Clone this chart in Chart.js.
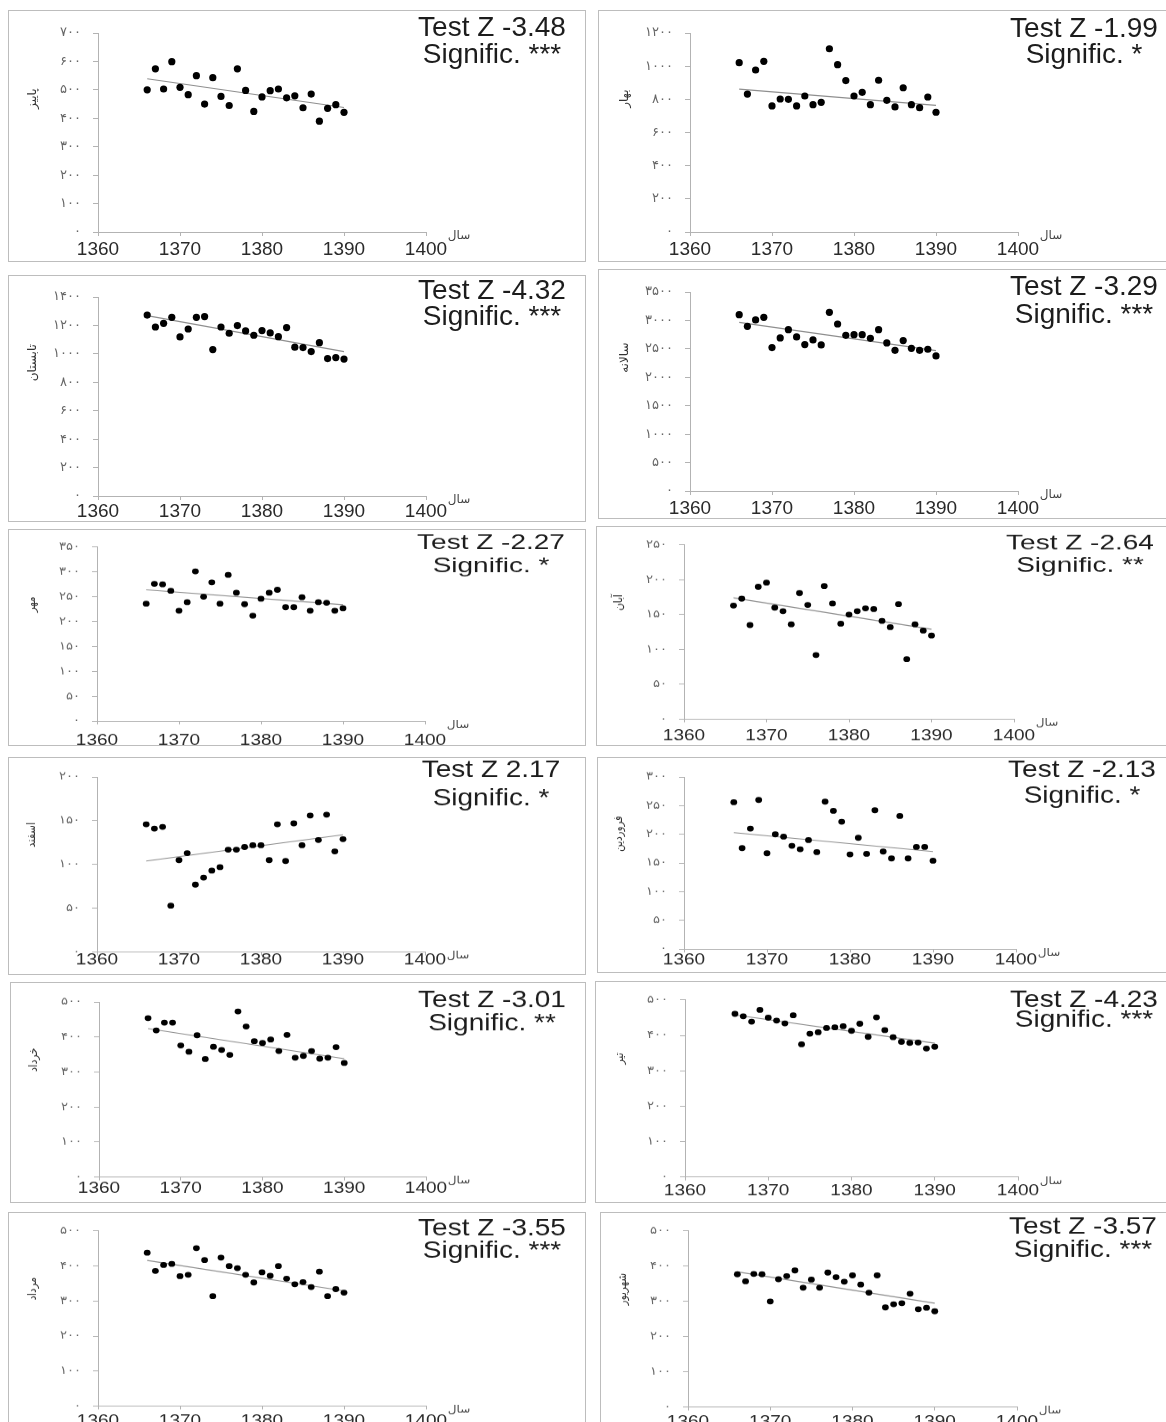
<!DOCTYPE html>
<html>
<head>
<meta charset="utf-8">
<script src="https://cdn.jsdelivr.net/npm/chart.js@4"></script>
<style>
  html, body { margin: 0; padding: 0; background: #fff; }
  #sheet { position: relative; width: 1166px; height: 1422px; overflow: hidden; background: #fff; }
  .panel { position: absolute; box-sizing: border-box; border: 1px solid #bdbdbd; overflow: hidden; background: #fff; }
  .panel canvas { position: absolute; left: 0; top: 0; transform-origin: 0 0; }
</style>
</head>
<body>
<div id="sheet"></div>
<script>
// Water years 1366–1390
const years = [1366,1367,1368,1369,1370,1371,1372,1373,1374,1375,1376,1377,1378,1379,1380,1381,1382,1383,1384,1385,1386,1387,1388,1389,1390];
const xTickLabels = ['1360','1370','1380','1390','1400'];
const persianDigits = ['۰','۱','۲','۳','۴','۵','۶','۷','۸','۹'];
const xAxisTitle = 'سال';

// Seasonal / annual / monthly series
const autumn    = [500,574,503,599,509,483,550,450,543,477,445,574,498,424,475,497,503,472,479,437,485,390,435,448,421];
const spring    = [1021,832,977,1029,760,802,800,760,820,768,782,1105,1009,913,820,842,768,915,794,754,870,768,750,814,722];
const summer    = [1273,1189,1215,1257,1119,1175,1257,1262,1030,1189,1145,1199,1161,1131,1164,1147,1121,1185,1047,1044,1016,1079,967,974,963];
const annual    = [3101,2896,3008,3054,2522,2692,2838,2709,2575,2657,2569,3142,2937,2738,2750,2750,2686,2838,2604,2475,2645,2510,2475,2493,2376];
const mehr      = [236,276,275,262,222,239,301,250,279,236,294,258,235,212,246,258,264,229,229,249,222,239,238,222,227];
const aban      = [163,173,135,190,196,160,155,136,181,164,92,191,166,137,150,155,159,158,141,132,165,86,136,127,120];
const esfand    = [146,141,143,53,105,113,77,85,93,97,117,117,120,122,122,105,146,104,147,122,156,128,157,115,129];
const farvardin = [256,176,210,260,167,200,196,180,174,190,169,257,241,222,165,194,166,242,170,158,232,158,178,178,154];
const khordad   = [454,419,441,441,376,358,405,337,372,363,349,473,430,388,383,393,360,406,341,346,360,338,341,371,326];
const tir       = [461,454,439,472,450,442,434,457,375,405,409,421,423,426,413,433,396,451,415,395,382,379,380,363,368];
const mordad    = [438,386,403,406,371,375,451,417,314,424,400,394,375,353,382,372,400,364,348,354,340,384,314,334,324];
const shahrivar = [377,357,378,377,300,363,372,388,339,362,339,382,369,356,374,348,325,374,283,292,295,322,278,282,272];

// Linear trend values at 1366 and 1390
const autumnTrend    = [539, 438];
const springTrend    = [862, 764];
const summerTrend    = [1269, 1016];
const annualTrend    = [2967, 2469];
const mehrTrend      = [264, 234];
const abanTrend      = [174, 129];
const esfandTrend    = [104, 134];
const farvardinTrend = [203, 170];
const khordadTrend   = [424, 338];
const tirTrend       = [458, 378];
const mordadTrend    = [416, 329];
const shahrivarTrend = [384, 295];
const trendYears = [1366, 1390];

const axisTitles   = ['پاییز','بهار','تابستان','سالانه','مهر','آبان','اسفند','فروردین','خرداد','تیر','مرداد','شهریور'];
const testZ        = ['-3.48','-1.99','-4.32','-3.29','-2.27','-2.64','2.17','-2.13','-3.01','-4.23','-3.55','-3.57'];
const significance = ['***','*','***','***','*','**','*','*','**','***','***','***'];
const yMax  = [700,1200,1400,3500,350,250,200,300,500,500,500,500];
const yStep = [100,200,200,500,50,50,50,50,100,100,100,100];

const seriesValues = [autumn, spring, summer, annual, mehr, aban, esfand, farvardin, khordad, tir, mordad, shahrivar];
const seriesTrends = [autumnTrend, springTrend, summerTrend, annualTrend, mehrTrend, abanTrend, esfandTrend, farvardinTrend, khordadTrend, tirTrend, mordadTrend, shahrivarTrend];

// Page geometry of each framed panel: box [left, top, width, height], plot area [left, right, top, bottom]
const panelLayout = [
  { box: [8, 10, 578, 252],    area: [98, 426, 33, 232],     sy: 1,    gap: 17.7, l1: 3, l2: 30, ts: 1 },
  { box: [598, 10, 570, 252],  area: [690, 1018, 33, 232],   sy: 1,    gap: 18,   l1: 4, l2: 30, ts: 1 },
  { box: [8, 275, 578, 247],   area: [98, 426, 297, 496],    sy: 1,    gap: 16,   l1: 2, l2: 28, ts: 1 },
  { box: [598, 269, 570, 250], area: [690, 1018, 292, 491],  sy: 1,    gap: 17.7, l1: 3, l2: 31, ts: 1 },
  { box: [8, 529, 578, 217],   area: [97, 425, 547, 721],    sy: 0.86, gap: 19.7, l1: 2, l2: 25, ts: 0.87 },
  { box: [596, 526, 572, 220], area: [684, 1014, 545, 719],  sy: 0.86, gap: 16.7, l1: 4, l2: 27, ts: 0.87 },
  { box: [8, 757, 578, 218],   area: [97, 425, 777, 952],    sy: 0.86, gap: 8,    l1: 0, l2: 28, ts: 1 },
  { box: [597, 757, 571, 216], area: [684, 1016, 777, 949],  sy: 0.86, gap: 11,   l1: 0, l2: 26, ts: 1 },
  { box: [10, 982, 576, 221],  area: [99, 426, 1002, 1177],  sy: 0.86, gap: 11,   l1: 5, l2: 28, ts: 1 },
  { box: [595, 981, 573, 222], area: [685, 1018, 1000, 1177],sy: 0.86, gap: 14,   l1: 7, l2: 27, ts: 1 },
  { box: [8, 1212, 578, 220],  area: [98, 426, 1231, 1406],  sy: 0.86, gap: 15,   l1: 4, l2: 27, ts: 1 },
  { box: [600, 1212, 568, 220],area: [688, 1017, 1231, 1407],sy: 0.86, gap: 15,   l1: 3, l2: 26, ts: 1 }
];

function toPersian(n) {
  return String(n).split('').map(c => (c >= '0' && c <= '9') ? persianDigits[+c] : c).join('');
}

// Draws the statistic block, the rotated y title and the x title
const panelText = {
  id: 'panelText',
  afterDraw(chart, args, o) {
    const { ctx, chartArea: a } = chart;
    ctx.save();
    ctx.fillStyle = '#1c1c1c';
    ctx.textAlign = 'center';
    ctx.textBaseline = 'alphabetic';
    ctx.font = '28px "Liberation Sans", Arial, sans-serif';
    const cx = a.right + 66;
    [[o.l1, 'Test Z ' + o.z], [o.l2, 'Signific. ' + o.sig]].forEach(([dy, s]) => {
      ctx.save();
      ctx.translate(cx, a.top + dy / o.sy);
      ctx.scale(1, o.ts);
      ctx.fillText(s, 0, 0);
      ctx.restore();
    });
    // y title
    ctx.save();
    ctx.translate(a.left - 65, a.top + (a.bottom - a.top) * 0.33);
    ctx.rotate(-Math.PI / 2);
    ctx.fillStyle = '#333';
    ctx.textBaseline = 'middle';
    ctx.font = '12px "DejaVu Sans", sans-serif';
    ctx.fillText(o.title, 0, 0);
    ctx.restore();
    // x title
    ctx.fillStyle = '#444';
    ctx.textBaseline = 'middle';
    ctx.font = '12px "DejaVu Sans", sans-serif';
    ctx.fillText(xAxisTitle, a.right + 33, a.bottom + 4 / o.sy);
    ctx.restore();
  }
};

const sheet = document.getElementById('sheet');

panelLayout.forEach((p, i) => {
  const [bx, by, bw, bh] = p.box;
  const innerW = bw - 2, innerH = bh - 2;
  const canvasH = Math.round(innerH / p.sy);
  const div = document.createElement('div');
  div.className = 'panel';
  Object.assign(div.style, { left: bx + 'px', top: by + 'px', width: bw + 'px', height: bh + 'px' });
  const cv = document.createElement('canvas');
  cv.width = innerW; cv.height = canvasH;
  cv.style.width = innerW + 'px'; cv.style.height = canvasH + 'px';
  cv.style.transform = 'scaleY(' + p.sy + ')';
  div.appendChild(cv);
  sheet.appendChild(div);

  const offX = bx + 1, offY = by + 1;
  const L = p.area[0] - offX, R = p.area[1] - offX;
  const T = (p.area[2] - offY) / p.sy, B = (p.area[3] - offY) / p.sy;
  const xFont = 19, tickLen = 4;
  const xPad = p.gap / p.sy - tickLen - 0.6 * xFont;
  const axisColor = '#b3b3b3';

  const values = seriesValues[i];
  const trend = seriesTrends[i];

  new Chart(cv, {
    type: 'scatter',
    data: {
      datasets: [
        {
          data: years.map((x, k) => ({ x, y: values[k] })),
          backgroundColor: '#000',
          borderColor: '#000',
          borderWidth: 0,
          pointRadius: p.sy === 1 ? 3.6 : 3.4,
          order: 0
        },
        {
          type: 'line',
          data: trendYears.map((x, k) => ({ x, y: trend[k] })),
          borderColor: '#8f8f8f',
          borderWidth: 1.2,
          pointRadius: 0,
          fill: false,
          order: 1
        }
      ]
    },
    options: {
      responsive: false,
      animation: false,
      devicePixelRatio: 1,
      layout: { padding: { top: T, right: innerW - R, left: 0, bottom: 0 } },
      plugins: {
        legend: { display: false },
        tooltip: { enabled: false },
        panelText: { z: testZ[i], sig: significance[i], title: axisTitles[i], sy: p.sy, l1: p.l1, l2: p.l2, ts: p.ts }
      },
      scales: {
        x: {
          type: 'linear',
          min: 1360, max: 1400,
          afterBuildTicks: s => { s.ticks = xTickLabels.map(v => ({ value: +v })); },
          ticks: {
            autoSkip: false, maxRotation: 0, padding: xPad,
            color: '#2a2a2a',
            font: { size: xFont, family: '"Liberation Sans", Arial, sans-serif' },
            callback: (v, k) => xTickLabels[k]
          },
          grid: { drawOnChartArea: false, drawTicks: true, tickLength: tickLen, color: axisColor },
          border: { color: axisColor, width: 1 },
          afterFit: s => { s.height = canvasH - B; }
        },
        y: {
          min: 0, max: yMax[i],
          ticks: {
            stepSize: yStep[i], padding: 12,
            color: '#666',
            font: { size: 13, family: '"DejaVu Sans", sans-serif' },
            callback: v => toPersian(v)
          },
          grid: { drawOnChartArea: false, drawTicks: true, tickLength: 5, color: axisColor },
          border: { color: axisColor, width: 1 },
          afterFit: s => { s.width = L; }
        }
      }
    },
    plugins: [panelText]
  });
});
</script>
</body>
</html>
